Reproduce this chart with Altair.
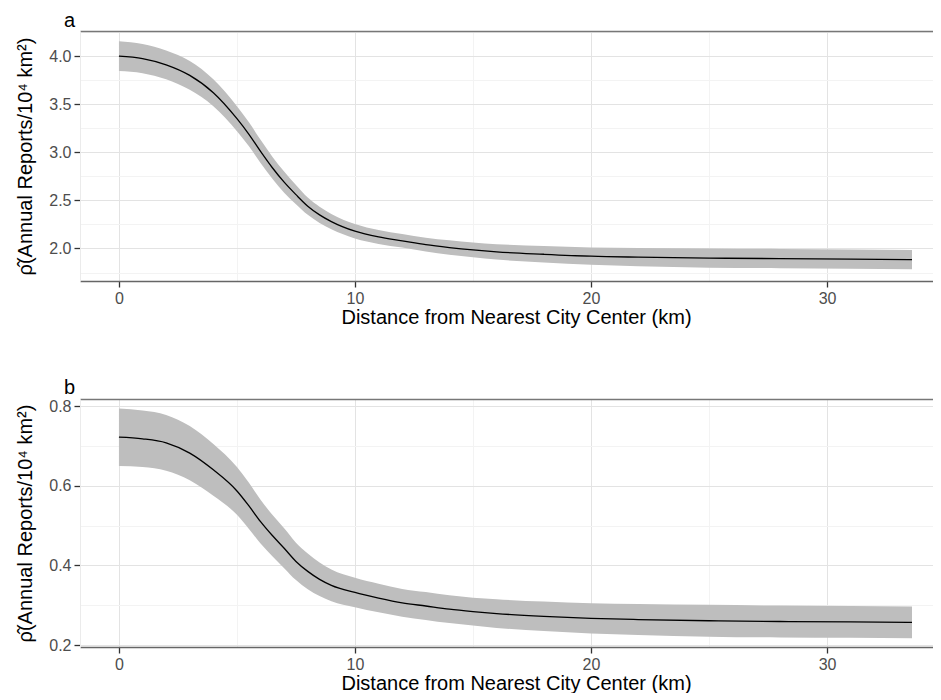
import altair as alt
import pandas as pd

# distance from nearest city centre (km)
dist = [0, 1, 2, 3, 4, 5, 5.5, 6, 6.5, 7, 7.5, 8, 8.5, 9, 10, 11, 12, 13, 14, 15, 16, 18, 20, 22, 25, 28, 31, 33.6]

# panel a
a_est = [4.00, 3.975, 3.91, 3.80, 3.62, 3.35, 3.19, 3.01, 2.84, 2.69, 2.56, 2.44, 2.35, 2.28, 2.18, 2.12, 2.08, 2.04, 2.01, 1.985, 1.965, 1.94, 1.92, 1.91, 1.90, 1.895, 1.89, 1.885]
a_hi = [4.155, 4.127, 4.06, 3.95, 3.76, 3.48, 3.315, 3.13, 2.955, 2.80, 2.66, 2.53, 2.435, 2.36, 2.255, 2.192, 2.15, 2.112, 2.085, 2.062, 2.045, 2.025, 2.01, 2.005, 2.00, 1.995, 1.99, 1.985]
a_lo = [3.845, 3.823, 3.76, 3.65, 3.48, 3.22, 3.065, 2.89, 2.725, 2.58, 2.46, 2.35, 2.265, 2.20, 2.105, 2.048, 2.01, 1.968, 1.935, 1.908, 1.885, 1.855, 1.83, 1.815, 1.80, 1.795, 1.79, 1.785]

# panel b
b_est = [0.722, 0.718, 0.708, 0.682, 0.64, 0.587, 0.55, 0.51, 0.475, 0.443, 0.41, 0.385, 0.365, 0.35, 0.332, 0.318, 0.306, 0.298, 0.29, 0.284, 0.279, 0.272, 0.267, 0.264, 0.261, 0.259, 0.258, 0.257]
b_hi = [0.794, 0.789, 0.778, 0.75, 0.705, 0.647, 0.608, 0.565, 0.527, 0.493, 0.457, 0.43, 0.407, 0.39, 0.369, 0.354, 0.341, 0.333, 0.325, 0.319, 0.315, 0.309, 0.305, 0.303, 0.301, 0.299, 0.298, 0.297]
b_lo = [0.65, 0.647, 0.638, 0.614, 0.575, 0.527, 0.492, 0.455, 0.423, 0.393, 0.363, 0.34, 0.323, 0.31, 0.295, 0.282, 0.271, 0.263, 0.255, 0.249, 0.243, 0.235, 0.229, 0.225, 0.221, 0.219, 0.218, 0.217]

x_major = [0, 10, 20, 30]
x_minor = [5, 15, 25]
a_ymajor = [2.0, 2.5, 3.0, 3.5, 4.0]
a_yminor = [1.75, 2.25, 2.75, 3.25, 3.75, 4.25]
b_ymajor = [0.2, 0.4, 0.6, 0.8]
b_yminor = [0.3, 0.5, 0.7]

X_TITLE = "Distance from Nearest City Center (km)"
Y_TITLE = "ρ̂(Annual Reports/10⁴ km²)"
FONT = "Liberation Sans"
MAJOR_GRID = "#e3e3e3"
MINOR_GRID = "#f3f3f3"


def panel(label, est, lo, hi, ymajor, yminor, ydomain, height):
    df = pd.DataFrame({"d": dist, "est": est, "lo": lo, "hi": hi})
    xscale = alt.Scale(domain=[-1.65, 34.49], nice=False, zero=False)
    yscale = alt.Scale(domain=ydomain, nice=False, zero=False)
    xaxis = alt.Axis(
        values=x_major, title=X_TITLE, titleX=436, titlePadding=1,
        gridColor=MAJOR_GRID, domainColor="#666666", domainWidth=1.5,
    )
    xaxis_top = alt.Axis(
        orient="top", values=x_minor, title=None, labels=False, ticks=False,
        grid=True, gridColor=MINOR_GRID, minExtent=0, maxExtent=0,
        domainColor="#777777", domainWidth=1.5,
    )
    yaxis = alt.Axis(
        values=ymajor, title=Y_TITLE, format=".1f", titlePadding=13,
        gridColor=MAJOR_GRID, domainColor="#ebebeb", domainWidth=1,
    )
    yaxis_right = alt.Axis(
        orient="right", values=yminor, title=None, labels=False, ticks=False,
        grid=True, gridColor=MINOR_GRID, domain=False, minExtent=0, maxExtent=0,
    )
    base = alt.Chart(df)
    band = base.mark_area(color="#bebebe", opacity=1, interpolate="monotone").encode(
        x=alt.X("d:Q", scale=xscale, axis=xaxis),
        y=alt.Y("lo:Q", scale=yscale, axis=yaxis),
        y2="hi:Q",
    )
    line = base.mark_line(color="black", strokeWidth=1.3, interpolate="monotone").encode(
        x=alt.X("d:Q", scale=xscale, axis=xaxis_top),
        y=alt.Y("est:Q", scale=yscale, axis=yaxis_right),
    )
    return alt.layer(band, line).resolve_axis(x="independent", y="independent").properties(
        width=853, height=height,
        title=alt.TitleParams(label, anchor="start", frame="group", dx=-16, offset=0,
                              fontSize=20, font=FONT, fontWeight="normal", color="black"),
    )


pa = panel("a", a_est, a_lo, a_hi, a_ymajor, a_yminor, [1.662, 4.262], 250)
pb = panel("b", b_est, b_lo, b_hi, b_ymajor, b_yminor, [0.195, 0.818], 248)

chart = alt.vconcat(pa, pb, spacing=51).properties(
    padding={"left": 7, "top": 3, "right": 0, "bottom": 0}
).configure_view(stroke=None).configure_axis(
    labelFont=FONT, titleFont=FONT, labelFontSize=16, titleFontSize=20,
    labelColor="#4d4d4d", titleColor="black", titleFontWeight="normal",
    tickColor="#333333", tickSize=6, tickWidth=1.3, labelPadding=3,
    gridWidth=1,
)

chart.save("out.html", embed_options={"renderer": "svg", "actions": False})
